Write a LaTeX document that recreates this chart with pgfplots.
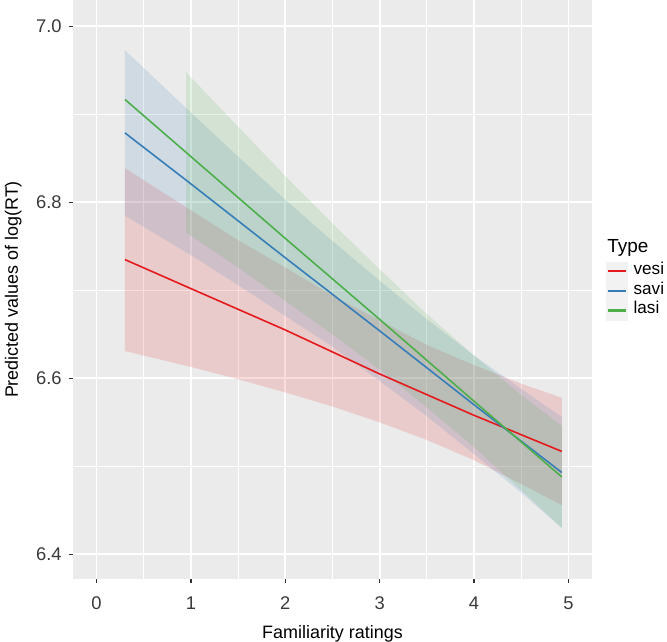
\documentclass[border=0pt]{standalone}
\usepackage{pgfplots}
\pgfplotsset{compat=1.18}
\usepackage{fontspec}
\setmainfont{Liberation Sans}
\definecolor{panel}{HTML}{EBEBEB}
\definecolor{cred}{HTML}{E41A1C}
\definecolor{cblue}{HTML}{377EB8}
\definecolor{cgreen}{HTML}{4DAF4A}
\definecolor{grey30}{HTML}{3A3A3A}
\definecolor{grey20}{HTML}{333333}
\definecolor{keybg}{HTML}{F2F2F2}
\begin{document}
\begin{tikzpicture}
\useasboundingbox (0,0) rectangle (333.5bp,321bp);
\begin{axis}[
  at={(36.5bp,31.5bp)}, anchor=south west,
  scale only axis, width=259.5bp, height=289.5bp,
  xmin=-0.25, xmax=5.25, ymin=6.372, ymax=7.03,
  axis background/.style={fill=panel},
  axis line style={draw=none},
  xtick={0,1,2,3,4,5}, ytick={6.4,6.6,6.8,7.0},
  minor xtick={0.5,1.5,2.5,3.5,4.5}, minor ytick={6.5,6.7,6.9},
  grid=both,
  major grid style={white, line width=0.9bp},
  minor grid style={white, line width=0.45bp},
  tick pos=left,
  tick align=outside, major tick length=2.2bp, minor tick length=0pt,
  major tick style={grey20, line width=0.6bp},
  minor tick style={draw=none},
  /pgf/number format/assume math mode=true,
  ticklabel style={font=\fontsize{9.2}{11}\selectfont, text=grey30},
  xticklabel style={yshift=-3bp},
  yticklabel style={/pgf/number format/.cd, fixed, fixed zerofill, precision=1},
  xlabel={Familiarity ratings},
  ylabel={Predicted values of log(RT)},
  label style={font=\fontsize{9}{10.8}\selectfont, text=black},
  xlabel style={at={(axis description cs:0.5,-0.1019)}, anchor=base},
  ylabel style={at={(axis description cs:-0.106,0.5)}, anchor=base},
  legend style={at={(axis description cs:1.027,0.5475)}, anchor=north west,
    draw=none, fill=none, inner sep=0pt, outer sep=0pt, row sep=0pt,
    font=\fontsize{8.6}{10.3}\selectfont, cells={anchor=west},
    nodes={inner xsep=3bp, inner ysep=0pt, text height=6bp, text depth=3bp}},
  legend image code/.code={\fill[keybg] (0bp,-4.5bp) rectangle (10bp,4.5bp);
    \draw[#1, line width=1.1bp] (0.5bp,0.25bp) -- (9.5bp,0.25bp);},
]
% confidence bands
\addplot[draw=none, fill=cred, fill opacity=0.15, forget plot] coordinates {
 (0.3,6.839) (1,6.791) (1.5,6.757) (2,6.726) (2.5,6.694) (3,6.666) (3.5,6.638) (4,6.615) (4.5,6.594) (4.93,6.578)
 (4.93,6.456) (4.5,6.480) (4,6.507) (3.5,6.530) (3,6.550) (2.5,6.568) (2,6.584) (1.5,6.599) (1,6.613) (0.3,6.631)} -- cycle;
\addplot[draw=none, fill=cblue, fill opacity=0.15, forget plot] coordinates {
 (0.3,6.973) (1,6.902) (1.5,6.852) (2,6.803) (2.5,6.756) (3,6.711) (3.5,6.667) (4,6.626) (4.5,6.588) (4.93,6.556)
 (4.93,6.430) (4.5,6.470) (4,6.514) (3.5,6.557) (3,6.597) (2.5,6.636) (2,6.671) (1.5,6.706) (1,6.740) (0.3,6.785)} -- cycle;
\addplot[draw=none, fill=cgreen, fill opacity=0.15, forget plot] coordinates {
 (0.95,6.948) (1,6.942) (1.5,6.886) (2,6.830) (2.5,6.776) (3,6.724) (3.5,6.673) (4,6.626) (4.5,6.581) (4.93,6.546)
 (4.93,6.430) (4.5,6.473) (4,6.522) (3.5,6.567) (3,6.610) (2.5,6.650) (2,6.688) (1.5,6.726) (1,6.762) (0.95,6.766)} -- cycle;
% predicted lines
\addplot[cred, line width=0.8bp] coordinates {(0.3,6.735) (1,6.702) (2,6.655) (3,6.605) (4,6.558) (4.93,6.517)};
\addlegendentry{vesi}
\addplot[cblue, line width=0.8bp] coordinates {(0.3,6.879) (1,6.821) (2,6.737) (3,6.654) (4,6.570) (4.93,6.493)};
\addlegendentry{savi}
\addplot[cgreen, line width=0.8bp] coordinates {(0.3,6.917) (1,6.852) (2,6.759) (3,6.667) (4,6.574) (4.93,6.488)};
\addlegendentry{lasi}
\end{axis}
\node[anchor=base west, font=\fontsize{9.5}{11}\selectfont, inner sep=0pt] at (303.5bp,194.5bp) {Type};
\end{tikzpicture}
\end{document}
